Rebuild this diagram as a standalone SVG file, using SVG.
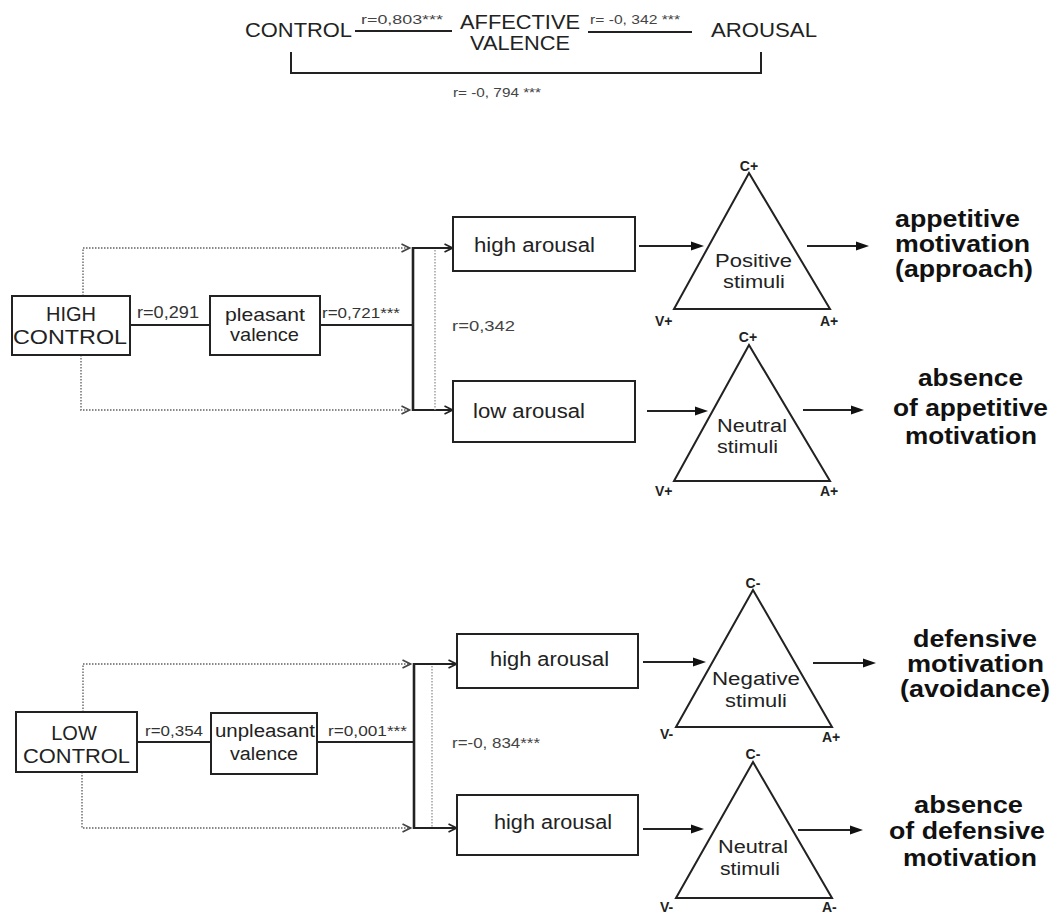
<svg xmlns="http://www.w3.org/2000/svg" width="1056" height="915" viewBox="0 0 1056 915">
<defs>
<style>
text{font-family:"Liberation Sans",Arial,sans-serif;fill:#222}
.t{font-size:20px}
.s{font-size:13px;fill:#444}
.m{font-size:16px;fill:#333}
.b{font-size:23px;font-weight:bold;fill:#111}
.v{font-size:14px;font-weight:bold;fill:#222}
.box{fill:#fff;stroke:#222;stroke-width:2}
.tri{fill:#fff;stroke:#222;stroke-width:2;stroke-linejoin:miter}
.ln{fill:none;stroke:#222;stroke-width:2}
.thick{fill:none;stroke:#222;stroke-width:2.6}
.dot{fill:none;stroke:#888;stroke-width:1.8;stroke-dasharray:1.5 1.5}
.vdot{fill:none;stroke:#999;stroke-width:1.4;stroke-dasharray:1.5 1.5}
</style>
<marker id="chev" viewBox="0 0 10 10" refX="9.5" refY="5" markerWidth="10" markerHeight="10" markerUnits="userSpaceOnUse" orient="auto"><path d="M1,1 L9,5 L1,9" fill="none" stroke="#222" stroke-width="1.7"/></marker>
<marker id="chevg" viewBox="0 0 10 10" refX="9.5" refY="5" markerWidth="10" markerHeight="10" markerUnits="userSpaceOnUse" orient="auto"><path d="M1,1 L9,5 L1,9" fill="none" stroke="#444" stroke-width="1.7"/></marker>
<marker id="arr" viewBox="0 0 13 10" refX="10" refY="5" markerWidth="13" markerHeight="10" markerUnits="userSpaceOnUse" orient="auto"><path d="M0,0.5 L13,5 L0,9.5 z" fill="#111"/></marker>
</defs>
<rect width="1056" height="915" fill="#fff"/>

<g id="header">
<text class="t" x="245" y="37" textLength="107" lengthAdjust="spacingAndGlyphs">CONTROL</text>
<text class="s" x="361" y="24" textLength="82" lengthAdjust="spacingAndGlyphs">r=0,803***</text>
<line class="ln" x1="355" y1="31" x2="452" y2="31" stroke-width="1.8"/>
<text class="t" x="460" y="29" textLength="120" lengthAdjust="spacingAndGlyphs">AFFECTIVE</text>
<text class="t" x="470" y="50" textLength="100" lengthAdjust="spacingAndGlyphs">VALENCE</text>
<text class="s" x="590" y="24" textLength="90" lengthAdjust="spacingAndGlyphs">r= -0, 342 ***</text>
<line class="ln" x1="588" y1="32" x2="692" y2="32" stroke-width="1.8"/>
<text class="t" x="711" y="37" textLength="106" lengthAdjust="spacingAndGlyphs">AROUSAL</text>
<path class="ln" d="M291 52 V73 H761 V52" stroke="#333"/>
<text class="s" x="453" y="97" textLength="88" lengthAdjust="spacingAndGlyphs">r= -0, 794 ***</text>
</g>

<g id="connectors">
<line class="ln" x1="130" y1="325" x2="210" y2="325"/>
<line class="ln" x1="320" y1="325" x2="413" y2="325"/>
<line class="thick" x1="413" y1="247" x2="413" y2="411"/>
<path class="dot" d="M83 296 V248 H410" marker-end="url(#chevg)"/>
<path class="dot" d="M81 355 V410 H410" marker-end="url(#chevg)"/>
<line class="ln" x1="413" y1="248" x2="453" y2="248" marker-end="url(#chev)"/>
<line class="ln" x1="413" y1="410" x2="453" y2="410" marker-end="url(#chev)"/>
<line class="vdot" x1="435" y1="250" x2="435" y2="410"/>
<line class="ln" x1="639" y1="246" x2="701" y2="246" marker-end="url(#arr)"/>
<line class="ln" x1="807" y1="246" x2="866" y2="246" marker-end="url(#arr)"/>
<line class="ln" x1="647" y1="411" x2="705" y2="411" marker-end="url(#arr)"/>
<line class="ln" x1="803" y1="410" x2="861" y2="410" marker-end="url(#arr)"/>
<line class="ln" x1="137" y1="742" x2="211" y2="742"/>
<line class="ln" x1="317" y1="742" x2="414" y2="742"/>
<line class="thick" x1="414" y1="663" x2="414" y2="829"/>
<path class="dot" d="M83 712 V664 H411" marker-end="url(#chevg)"/>
<path class="dot" d="M82 772 V828 H411" marker-end="url(#chevg)"/>
<line class="ln" x1="414" y1="664" x2="457" y2="664" marker-end="url(#chev)"/>
<line class="ln" x1="414" y1="828" x2="457" y2="828" marker-end="url(#chev)"/>
<line class="vdot" x1="432" y1="666" x2="432" y2="828"/>
<line class="ln" x1="643" y1="662" x2="703" y2="662" marker-end="url(#arr)"/>
<line class="ln" x1="813" y1="663" x2="873" y2="663" marker-end="url(#arr)"/>
<line class="ln" x1="643" y1="829" x2="701" y2="829" marker-end="url(#arr)"/>
<line class="ln" x1="798" y1="830" x2="860" y2="830" marker-end="url(#arr)"/>
</g>

<g id="high-control">
<rect class="box" x="12" y="296" width="118" height="59"/>
<text class="t" x="71" y="321" text-anchor="middle">HIGH</text>
<text class="t" x="13" y="344" textLength="114" lengthAdjust="spacingAndGlyphs">CONTROL</text>
</g>
<text class="m" x="137" y="318" textLength="62" lengthAdjust="spacingAndGlyphs">r=0,291</text>
<g id="pleasant-valence">
<rect class="box" x="210" y="296" width="110" height="59"/>
<text class="t" x="225" y="321" textLength="80" lengthAdjust="spacingAndGlyphs" style="font-size:19px">pleasant</text>
<text class="t" x="230" y="341" textLength="69" lengthAdjust="spacingAndGlyphs" style="font-size:19px">valence</text>
</g>
<text class="m" x="322" y="318" textLength="78" lengthAdjust="spacingAndGlyphs" style="font-size:15px">r=0,721***</text>
<g id="high-arousal-1">
<rect class="box" x="453" y="217" width="182" height="54"/>
<text class="t" x="474" y="252" textLength="121" lengthAdjust="spacingAndGlyphs">high arousal</text>
</g>
<g id="low-arousal-1">
<rect class="box" x="453" y="381" width="182" height="61"/>
<text class="t" x="473" y="418" textLength="112" lengthAdjust="spacingAndGlyphs">low arousal</text>
</g>
<text class="s" x="452" y="331" textLength="63" lengthAdjust="spacingAndGlyphs" style="font-size:14px">r=0,342</text>

<g id="positive-stimuli">
<polygon class="tri" points="749,173 674,309 830,309"/>
<text class="v" x="749" y="171" text-anchor="middle">C+</text>
<text class="v" x="655" y="326">V+</text>
<text class="v" x="820" y="326">A+</text>
<text class="t" x="715" y="267" textLength="77" lengthAdjust="spacingAndGlyphs" style="font-size:18px">Positive</text>
<text class="t" x="723" y="288" textLength="62" lengthAdjust="spacingAndGlyphs" style="font-size:18px">stimuli</text>
</g>
<g id="appetitive-motivation">
<text class="b" x="895" y="227" textLength="125" lengthAdjust="spacingAndGlyphs">appetitive</text>
<text class="b" x="895" y="252" textLength="135" lengthAdjust="spacingAndGlyphs">motivation</text>
<text class="b" x="895" y="277" textLength="138" lengthAdjust="spacingAndGlyphs">(approach)</text>
</g>
<g id="neutral-stimuli-1">
<polygon class="tri" points="749,345 674,481 830,481"/>
<text class="v" x="748" y="342" text-anchor="middle">C+</text>
<text class="v" x="655" y="496">V+</text>
<text class="v" x="820" y="496">A+</text>
<text class="t" x="717" y="432" textLength="70" lengthAdjust="spacingAndGlyphs" style="font-size:18px">Neutral</text>
<text class="t" x="717" y="453" textLength="61" lengthAdjust="spacingAndGlyphs" style="font-size:18px">stimuli</text>
</g>
<g id="absence-appetitive">
<text class="b" x="918" y="386" textLength="105" lengthAdjust="spacingAndGlyphs">absence</text>
<text class="b" x="893" y="416" textLength="155" lengthAdjust="spacingAndGlyphs">of appetitive</text>
<text class="b" x="905" y="444" textLength="132" lengthAdjust="spacingAndGlyphs">motivation</text>
</g>

<g id="low-control">
<rect class="box" x="16" y="712" width="121" height="60"/>
<text class="t" x="74" y="740" text-anchor="middle">LOW</text>
<text class="t" x="23" y="763" textLength="107" lengthAdjust="spacingAndGlyphs">CONTROL</text>
</g>
<text class="m" x="145" y="736" textLength="58" lengthAdjust="spacingAndGlyphs" style="font-size:15px">r=0,354</text>
<g id="unpleasant-valence">
<rect class="box" x="211" y="713" width="106" height="61"/>
<text class="t" x="215" y="737" textLength="100" lengthAdjust="spacingAndGlyphs" style="font-size:18px">unpleasant</text>
<text class="t" x="230" y="760" textLength="68" lengthAdjust="spacingAndGlyphs" style="font-size:18px">valence</text>
</g>
<text class="m" x="328" y="736" textLength="79" lengthAdjust="spacingAndGlyphs" style="font-size:15px">r=0,001***</text>
<g id="high-arousal-2">
<rect class="box" x="457" y="634" width="181" height="54"/>
<text class="t" x="490" y="666" textLength="119" lengthAdjust="spacingAndGlyphs">high arousal</text>
</g>
<g id="high-arousal-3">
<rect class="box" x="457" y="795" width="181" height="60"/>
<text class="t" x="494" y="829" textLength="118" lengthAdjust="spacingAndGlyphs">high arousal</text>
</g>
<text class="s" x="452" y="748" textLength="88" lengthAdjust="spacingAndGlyphs" style="font-size:14px">r=-0, 834***</text>

<g id="negative-stimuli">
<polygon class="tri" points="753,590 676,727 832,727"/>
<text class="v" x="753" y="588" text-anchor="middle">C-</text>
<text class="v" x="660" y="739">V-</text>
<text class="v" x="822" y="742">A+</text>
<text class="t" x="712" y="685" textLength="88" lengthAdjust="spacingAndGlyphs" style="font-size:18px">Negative</text>
<text class="t" x="725" y="707" textLength="62" lengthAdjust="spacingAndGlyphs" style="font-size:18px">stimuli</text>
</g>
<g id="defensive-motivation">
<text class="b" x="913" y="647" textLength="124" lengthAdjust="spacingAndGlyphs">defensive</text>
<text class="b" x="907" y="672" textLength="137" lengthAdjust="spacingAndGlyphs">motivation</text>
<text class="b" x="900" y="697" textLength="150" lengthAdjust="spacingAndGlyphs">(avoidance)</text>
</g>
<g id="neutral-stimuli-2">
<polygon class="tri" points="753,762 676,898 832,898"/>
<text class="v" x="753" y="759" text-anchor="middle">C-</text>
<text class="v" x="660" y="912">V-</text>
<text class="v" x="822" y="912">A-</text>
<text class="t" x="718" y="853" textLength="70" lengthAdjust="spacingAndGlyphs" style="font-size:18px">Neutral</text>
<text class="t" x="720" y="875" textLength="60" lengthAdjust="spacingAndGlyphs" style="font-size:18px">stimuli</text>
</g>
<g id="absence-defensive">
<text class="b" x="914" y="813" textLength="109" lengthAdjust="spacingAndGlyphs">absence</text>
<text class="b" x="889" y="839" textLength="156" lengthAdjust="spacingAndGlyphs">of defensive</text>
<text class="b" x="903" y="866" textLength="134" lengthAdjust="spacingAndGlyphs">motivation</text>
</g>
</svg>
